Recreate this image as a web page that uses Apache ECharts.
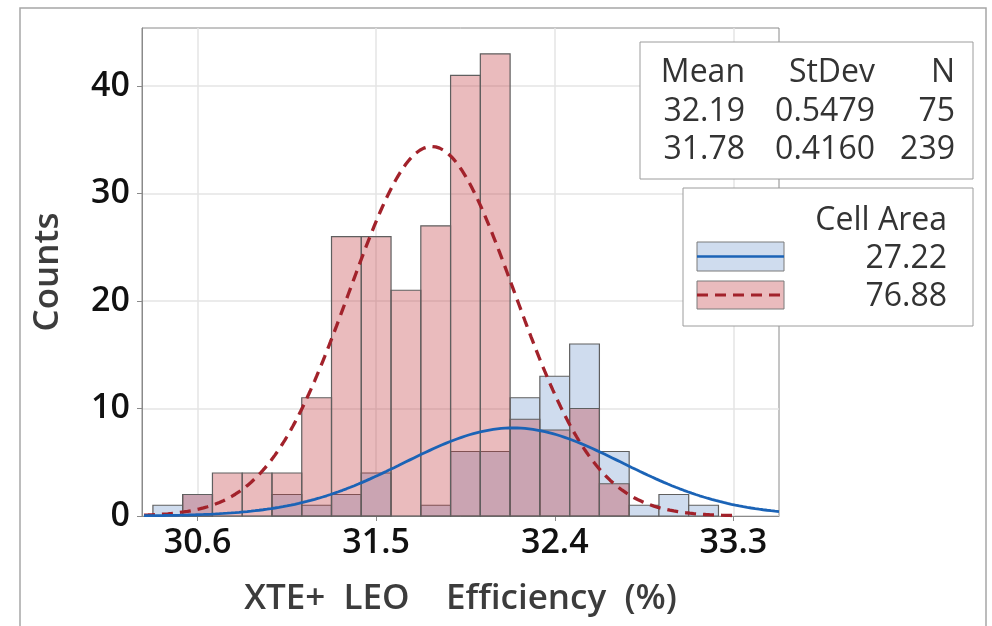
<!DOCTYPE html>
<html>
<head>
<meta charset="utf-8">
<script src="https://cdn.jsdelivr.net/npm/echarts@6/dist/echarts.min.js"></script>
<style>
  html, body { margin: 0; padding: 0; background: #fff; }
  #chart { width: 992px; height: 626px; }
</style>
</head>
<body>
<div id="chart"></div>
<script>
// Histogram bins (centres, width) of XTE+ LEO efficiency
const binCenters = [30.45, 30.60, 30.75, 30.90, 31.05, 31.20, 31.35, 31.50, 31.65, 31.80,
                    31.95, 32.10, 32.25, 32.40, 32.55, 32.70, 32.85, 33.00, 33.15];
const binWidth = 0.15;
// Counts per bin for each cell area
const countsArea27 = [1, 2, 0, 0, 2, 1, 2, 4, 0, 1, 6, 6, 11, 13, 16, 6, 1, 2, 1];
const countsArea77 = [0, 2, 4, 4, 4, 11, 26, 26, 21, 27, 41, 43, 9, 8, 10, 3, 0, 0, 0];
// Summary statistics per group
const groupNames = ['27.22', '76.88'];
const means = [32.19, 31.78];
const stdevs = [0.5479, 0.4160];
const sampleSizes = [75, 239];
// Axis ticks
const xTicks = [30.6, 31.5, 32.4, 33.3];
const yTicks = [0, 10, 20, 30, 40];

const FONT = '"Open Sans", "Noto Sans", sans-serif';
const blueFill = '#cfdcee';
const redFill = 'rgba(193,55,61,0.34)';
const blueLine = '#1b63b6';
const redLine = '#a2222b';
const boxFont = '500 32px ' + FONT;

// Fitted normal curve, scaled to counts per bin
function fitCurve(mean, sd, n, from, to) {
  const pts = [];
  const k = n * binWidth / (sd * Math.sqrt(2 * Math.PI));
  for (let x = from; x <= to + 1e-9; x += 0.01) {
    const z = (x - mean) / sd;
    pts.push([+x.toFixed(3), k * Math.exp(-0.5 * z * z)]);
  }
  return pts;
}

function histItem(fill) {
  return function (params, api) {
    const c = api.value(0), h = api.value(1);
    if (!h) return null;
    const p0 = api.coord([c - binWidth / 2, h]);
    const p1 = api.coord([c + binWidth / 2, 0]);
    return {
      type: 'rect',
      shape: { x: p0[0], y: p0[1], width: p1[0] - p0[0], height: p1[1] - p0[1] },
      style: { fill: fill, stroke: '#5f5f5f', lineWidth: 1.2 }
    };
  };
}

const chart = echarts.init(document.getElementById('chart'), null, { renderer: 'canvas' });

const statsText = (i) => [means[i].toFixed(2), stdevs[i].toFixed(4), String(sampleSizes[i])];
const colRight = [745, 875, 955];
const statRows = [['Mean', 'StDev', 'N'], statsText(0), statsText(1)];
const statY = [73, 112, 150];

const graphics = [
  { type: 'rect', shape: { x: 20, y: 8, width: 966, height: 660 }, style: { fill: 'none', stroke: '#a6a6a6', lineWidth: 1.5 }, z: 1, silent: true },
  { type: 'rect', shape: { x: 640, y: 42, width: 333, height: 137 }, style: { fill: '#fff', stroke: '#9c9c9c', lineWidth: 1 }, z: 100 },
  { type: 'rect', shape: { x: 683, y: 188, width: 290, height: 138 }, style: { fill: '#fff', stroke: '#9c9c9c', lineWidth: 1 }, z: 100 },
  // legend swatches
  { type: 'rect', shape: { x: 697, y: 242, width: 87, height: 29 }, style: { fill: blueFill, stroke: '#7a7a7a', lineWidth: 1 }, z: 101 },
  { type: 'line', shape: { x1: 697, y1: 256.5, x2: 784, y2: 256.5 }, style: { stroke: blueLine, lineWidth: 2.5 }, z: 102 },
  { type: 'rect', shape: { x: 697, y: 281, width: 87, height: 28 }, style: { fill: '#eabbbd', stroke: '#7a7a7a', lineWidth: 1 }, z: 101 },
  { type: 'line', shape: { x1: 697, y1: 295, x2: 784, y2: 295 }, style: { stroke: redLine, lineWidth: 3, lineDash: [11, 7] }, z: 102 },
  { type: 'text', x: 947, y: 221, style: { text: 'Cell Area', align: 'right', verticalAlign: 'middle', font: boxFont, fill: '#333' }, z: 103 },
  { type: 'text', x: 947, y: 259, style: { text: groupNames[0], align: 'right', verticalAlign: 'middle', font: boxFont, fill: '#333' }, z: 103 },
  { type: 'text', x: 947, y: 297, style: { text: groupNames[1], align: 'right', verticalAlign: 'middle', font: boxFont, fill: '#333' }, z: 103 }
];
statRows.forEach((row, r) => {
  row.forEach((txt, c) => {
    graphics.push({ type: 'text', x: colRight[c], y: statY[r],
      style: { text: txt, align: 'right', verticalAlign: 'middle', font: boxFont, fill: '#333' }, z: 103 });
  });
});

const option = {
  animation: false,
  backgroundColor: '#fff',
  grid: { left: 142, right: 213, top: 28, bottom: 110, show: true, borderColor: '#8a8a8a', borderWidth: 1 },
  xAxis: {
    type: 'value', min: 30.32, max: 33.53,
    name: 'XTE+  LEO    Efficiency  (%)', nameLocation: 'middle', nameGap: 66,
    nameTextStyle: { fontFamily: FONT, fontSize: 35, fontWeight: 600, color: '#3c3c3c' },
    axisLine: { show: true, onZero: false, lineStyle: { color: '#8a8a8a' } },
    axisTick: { show: true, length: 5, customValues: xTicks, lineStyle: { color: '#8a8a8a' } },
    axisLabel: { customValues: xTicks, formatter: (v) => v.toFixed(1), fontFamily: FONT, fontSize: 34, fontWeight: 600, color: '#111', margin: 10 },
    splitLine: { show: true, lineStyle: { color: '#e4e4e4', width: 1.5 } }
  },
  yAxis: {
    type: 'value', min: 0, max: 45.4,
    name: 'Counts', nameLocation: 'middle', nameGap: 76,
    nameTextStyle: { fontFamily: FONT, fontSize: 35, fontWeight: 600, color: '#3c3c3c' },
    axisLine: { show: true, lineStyle: { color: '#8a8a8a' } },
    axisTick: { show: true, length: 5, customValues: yTicks, lineStyle: { color: '#8a8a8a' } },
    axisLabel: { customValues: yTicks, fontFamily: FONT, fontSize: 34, fontWeight: 600, color: '#111', margin: 12 },
    splitLine: { show: true, lineStyle: { color: '#e4e4e4', width: 1.5 } }
  },
  series: [
    { type: 'custom', name: groupNames[0], renderItem: histItem(blueFill), encode: { x: 0, y: 1 },
      data: binCenters.map((c, i) => [c, countsArea27[i]]), z: 2 },
    { type: 'custom', name: groupNames[1], renderItem: histItem(redFill), encode: { x: 0, y: 1 },
      data: binCenters.map((c, i) => [c, countsArea77[i]]), z: 3 },
    { type: 'line', name: groupNames[1] + ' fit', showSymbol: false, z: 4,
      lineStyle: { color: redLine, width: 3.3, type: [11, 7] },
      data: fitCurve(means[1], stdevs[1], sampleSizes[1], 30.33, 33.32) },
    { type: 'line', name: groupNames[0] + ' fit', showSymbol: false, z: 5,
      lineStyle: { color: blueLine, width: 2.8 },
      data: fitCurve(means[0], stdevs[0], sampleSizes[0], 30.33, 33.53) }
  ],
  graphic: graphics
};
chart.setOption(option);
</script>
</body>
</html>
